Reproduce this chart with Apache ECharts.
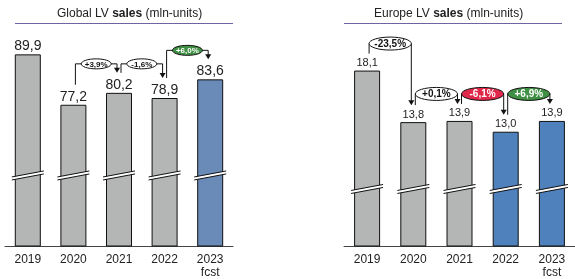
<!DOCTYPE html>
<html>
<head>
<meta charset="utf-8">
<script src="https://cdn.jsdelivr.net/npm/echarts@6/dist/echarts.min.js"></script>
<style>
  html, body { margin: 0; padding: 0; background: #fff; }
  #chart { width: 575px; height: 279px; }
</style>
</head>
<body>
<div id="chart"></div>
<script>
// data
const years = ['2019', '2020', '2021', '2022', '2023\nfcst'];
const globalSales = [89.9, 77.2, 80.2, 78.9, 83.6];
const europeSales = [18.1, 13.8, 13.9, 13.0, 13.9];
// year-over-year changes: [from index, to index]
const globalSteps = [[1, 2], [2, 3], [3, 4]];
const globalChange = ['+3,9%', '-1,6%', '+6,0%'];
const europeSteps = [[0, 1], [1, 2], [2, 3], [3, 4]];
const europeChange = ['-23,5%', '+0,1%', '-6,1%', '+6,9%'];

// styling
const GREY = '#b3b6b5';
const globalPill = ['#fff', '#fff', '#3f8f44'];
const europePill = ['#fff', '#fff', '#e0284a', '#3f8f44'];

const chart = echarts.init(document.getElementById('chart'));
const fmt = v => v.toFixed(1).replace('.', ',');

function barSeries(idx, values, blueFrom, blue, fontSize, dist) {
    return {
        type: 'bar',
        xAxisIndex: idx,
        yAxisIndex: idx,
        data: values,
        barWidth: 26,
        itemStyle: {
            color: p => (p.dataIndex >= blueFrom ? blue : GREY),
            borderColor: '#111',
            borderWidth: 1
        },
        label: {
            show: true,
            position: 'top',
            distance: dist,
            color: '#222',
            fontSize: fontSize,
            fontFamily: 'Liberation Sans, Arial',
            formatter: p => fmt(p.value)
        },
        z: 2
    };
}

function breakSeries(idx, breakVal) {
    return {
        type: 'custom',
        xAxisIndex: idx,
        yAxisIndex: idx,
        silent: true,
        z: 5,
        data: years.map((y, i) => [i, breakVal]),
        renderItem: (params, api) => {
            const p = api.coord([api.value(0), api.value(1)]);
            const x0 = p[0] - 16, x1 = p[0] + 16, y = p[1];
            return {
                type: 'group',
                children: [
                    {
                        type: 'polygon',
                        shape: { points: [[x0, y + 3], [x1, y - 3], [x1, y - 6], [x0, y]] },
                        style: { fill: '#fff' }
                    },
                    {
                        type: 'line',
                        shape: { x1: x0, y1: y + 3, x2: x1, y2: y - 3 },
                        style: { stroke: '#111', lineWidth: 1 }
                    },
                    {
                        type: 'line',
                        shape: { x1: x0, y1: y, x2: x1, y2: y - 6 },
                        style: { stroke: '#111', lineWidth: 1 }
                    }
                ]
            };
        }
    };
}

function changeSeries(idx, values, steps, labels, fills, cfg) {
    return {
        type: 'custom',
        xAxisIndex: idx,
        yAxisIndex: idx,
        silent: true,
        z: 6,
        data: steps.map((s, k) => [s[0], s[1], values[s[0]], values[s[1]], k]),
        renderItem: (params, api) => {
            const a = api.coord([api.value(0), api.value(2)]);
            const b = api.coord([api.value(1), api.value(3)]);
            const k = api.value(4);
            const top = Math.min(a[1], b[1]) - cfg.lift;
            const xL = a[0] + 2, xR = b[0] - 2;
            const yL = a[1] - cfg.gap, yR = b[1] - cfg.gap;
            const rx = cfg.rx || (xR - xL) / 2;
            const fill = fills[k];
            return {
                type: 'group',
                children: [
                    {
                        type: 'polyline',
                        shape: { points: [[xL, yL], [xL, top], [xR, top], [xR, yR - 4]] },
                        style: { stroke: '#111', lineWidth: 1, fill: null }
                    },
                    {
                        type: 'polygon',
                        shape: { points: [[xR - 3, yR - 5], [xR + 3, yR - 5], [xR, yR]] },
                        style: { fill: '#111' }
                    },
                    {
                        type: 'ellipse',
                        shape: { cx: (xL + xR) / 2, cy: top, rx: rx, ry: cfg.ry },
                        style: { fill: fill, stroke: '#111', lineWidth: 1 }
                    },
                    {
                        type: 'text',
                        style: {
                            text: labels[k],
                            x: (xL + xR) / 2,
                            y: top + 0.5,
                            align: 'center',
                            verticalAlign: 'middle',
                            fill: fill === '#fff' ? '#111' : '#fff',
                            font: 'bold ' + cfg.font + 'px Liberation Sans, Arial'
                        }
                    }
                ]
            };
        }
    };
}

function titleText(x, place) {
    return {
        type: 'text',
        left: x,
        top: 8,
        style: {
            text: '{n|' + place + ' LV }{b|sales}{n| (mln-units)}',
            rich: {
                n: { fontSize: 12, fontFamily: 'Liberation Sans, Arial', fill: '#222' },
                b: { fontSize: 12, fontWeight: 'bold', fontFamily: 'Liberation Sans, Arial', fill: '#222' }
            }
        }
    };
}

const axisLabel = {
    color: '#222',
    fontSize: 12,
    fontFamily: 'Liberation Sans, Arial',
    margin: 7,
    lineHeight: 13
};

const option = {
    animation: false,
    grid: [
        { left: 5, width: 228, top: 25, bottom: 30 },
        { left: 344, width: 231, top: 25, bottom: 31 }
    ],
    xAxis: [0, 1].map(i => ({
        type: 'category',
        gridIndex: i,
        data: years,
        axisTick: { show: false },
        axisLine: { lineStyle: { color: '#444', width: 1 } },
        axisLabel: axisLabel
    })),
    yAxis: [
        { type: 'value', gridIndex: 0, min: 41.6, max: 97.3, show: false },
        { type: 'value', gridIndex: 1, min: 3.47, max: 21.9, show: false }
    ],
    graphic: [
        titleText(57, 'Global'),
        titleText(374, 'Europe'),
        { type: 'line', shape: { x1: 15, y1: 23.5, x2: 233, y2: 23.5 }, style: { stroke: '#6f649e', lineWidth: 1 } },
        { type: 'line', shape: { x1: 344, y1: 23.5, x2: 562, y2: 23.5 }, style: { stroke: '#6f649e', lineWidth: 1 } }
    ],
    series: [
        barSeries(0, globalSales, 4, '#6a8ab8', 14, 1),
        barSeries(1, europeSales, 3, '#4f81bd', 11, 2),
        breakSeries(0, 59),
        breakSeries(1, 8.1),
        changeSeries(0, globalSales, globalSteps, globalChange, globalPill, { lift: 29, gap: 20, rx: 15, ry: 5, font: 8 }),
        changeSeries(1, europeSales, europeSteps, europeChange, europePill, { lift: 27, gap: 17, ry: 6.5, font: 10 })
    ]
};

chart.setOption(option);

window.addEventListener('resize', () => {
    chart.resize();
});
</script>
</body>
</html>
